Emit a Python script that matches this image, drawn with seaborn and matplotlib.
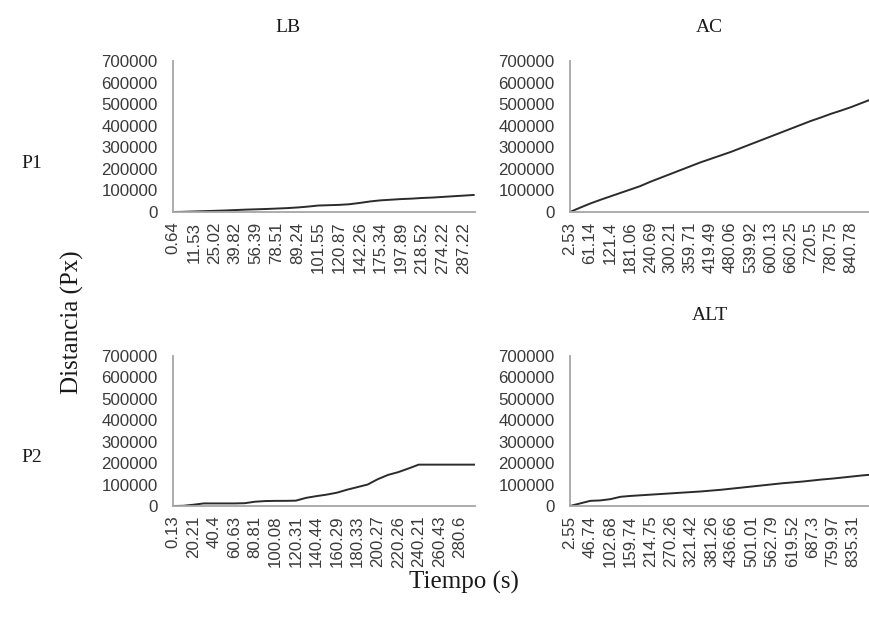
import numpy as np
import pandas as pd
import matplotlib
matplotlib.use("Agg")
import matplotlib.pyplot as plt
import seaborn as sns

# ---------------- data ----------------
# x tick labels (time, s) shown on each category axis
p1_lb_labels = ["0.64", "11.53", "25.02", "39.82", "56.39", "78.51", "89.24", "101.55",
                "120.87", "142.26", "175.34", "197.89", "218.52", "274.22", "287.22"]
p1_ac_labels = ["2.53", "61.14", "121.4", "181.06", "240.69", "300.21", "359.71", "419.49",
                "480.06", "539.92", "600.13", "660.25", "720.5", "780.75", "840.78"]
p2_lb_labels = ["0.13", "20.21", "40.4", "60.63", "80.81", "100.08", "120.31", "140.44",
                "160.29", "180.33", "200.27", "220.26", "240.21", "260.43", "280.6"]
p2_alt_labels = ["2.55", "46.74", "102.68", "159.74", "214.75", "270.26", "321.42", "381.26",
                 "436.66", "501.01", "562.79", "619.52", "687.3", "759.97", "835.31"]

# cumulative distance (Px), sampled every half label interval
p1_lb_values = [0, 1000, 2500, 4000, 5500, 7000, 9000, 11000, 12500, 14000,
                16000, 18000, 21000, 25000, 30000, 31500, 33000, 36000, 42000, 49000,
                54000, 57000, 60000, 62000, 65000, 67000, 70000, 73000, 76000, 79000]
p1_ac_values = [0, 20000, 39000, 56000, 72000, 88000, 104000, 120000, 140000, 158000,
                176000, 194000, 212000, 230000, 246000, 262000, 278000, 296000, 314000, 332000,
                350000, 368000, 386000, 404000, 422000, 438000, 455000, 470000, 486000, 504000,
                522000]
p2_lb_values = [0, 1000, 6000, 12000, 12000, 12000, 12000, 13000, 20000, 23000,
                24000, 24000, 25000, 38000, 46000, 53000, 62000, 76000, 88000, 100000,
                125000, 145000, 158000, 175000, 193000, 193000, 193000, 193000, 193000, 193000,
                193000]
p2_alt_values = [0, 12000, 24000, 26000, 32000, 43000, 47000, 50000, 53000, 56000,
                 59000, 62000, 65000, 68000, 72000, 76000, 81000, 86000, 91000, 96000,
                 101000, 106000, 110000, 114000, 119000, 124000, 128000, 133000, 138000, 143000,
                 147000]

y_ticks = [0, 100000, 200000, 300000, 400000, 500000, 600000, 700000]

# ---------------- style ----------------
sns.set_theme(style="white")
plt.rcParams['font.family'] = ['Liberation Sans', 'DejaVu Sans']
SERIF = ['Liberation Serif', 'DejaVu Serif']

W, H = 869, 621
fig = plt.figure(figsize=(W / 100, H / 100), dpi=100)
fig.patch.set_facecolor("white")


def add_ax(x0, y_top, x1, y_bot):
    return fig.add_axes([x0 / W, 1 - y_bot / H, (x1 - x0) / W, (y_bot - y_top) / H])


panels = [
    (p1_lb_labels, p1_lb_values, (173, 61, 475, 212), 14.55),
    (p1_ac_labels, p1_ac_values, (570, 61, 869, 212), 14.9),
    (p2_lb_labels, p2_lb_values, (173, 356, 475, 506), 14.75),
    (p2_alt_labels, p2_alt_values, (570, 356, 869, 506), 14.8),
]

for labels, values, box, xmax in panels:
    ax = add_ax(*box)
    df = pd.DataFrame({"pos": np.arange(len(values)) * 0.5, "dist": values})
    sns.lineplot(data=df, x="pos", y="dist", ax=ax, color="#2b2b2b", linewidth=1.4)
    ax.set_xlim(0, xmax)
    ax.set_ylim(0, 700000)
    ax.set_xticks(np.arange(len(labels)))
    ax.set_xticklabels(labels, rotation=90, fontsize=12.2, color="#3a3a3a")
    ax.set_yticks(y_ticks)
    ax.set_yticklabels([str(v) for v in y_ticks], fontsize=12.2, color="#3a3a3a")
    ax.tick_params(axis="both", length=0)
    ax.tick_params(axis="y", pad=11)
    ax.tick_params(axis="x", pad=7)
    ax.set_xlabel("")
    ax.set_ylabel("")
    for s in ("top", "right"):
        ax.spines[s].set_visible(False)
    for s in ("left", "bottom"):
        ax.spines[s].set_color("#a6a6a6")
        ax.spines[s].set_linewidth(1.3)
    ax.set_facecolor("white")

# panel titles and row labels
fig.text(288 / W, 1 - 27 / H, "LB", ha="center", va="center", fontsize=14, family=SERIF, color="#1a1a1a")
fig.text(709 / W, 1 - 27 / H, "AC", ha="center", va="center", fontsize=14, family=SERIF, color="#1a1a1a")
fig.text(710 / W, 1 - 316 / H, "ALT", ha="center", va="center", fontsize=14, family=SERIF, color="#1a1a1a")
fig.text(32 / W, 1 - 163 / H, "P1", ha="center", va="center", fontsize=14, family=SERIF, color="#1a1a1a")
fig.text(32 / W, 1 - 458 / H, "P2", ha="center", va="center", fontsize=14, family=SERIF, color="#1a1a1a")

# axis titles
fig.text(72 / W, 1 - 322 / H, "Distancia (Px)", ha="center", va="center", rotation=90,
         fontsize=18, family=SERIF, color="#1a1a1a")
fig.text(464 / W, 1 - 582 / H, "Tiempo (s)", ha="center", va="center",
         fontsize=18, family=SERIF, color="#1a1a1a")

fig.savefig("out.png", dpi=100, facecolor="white")
